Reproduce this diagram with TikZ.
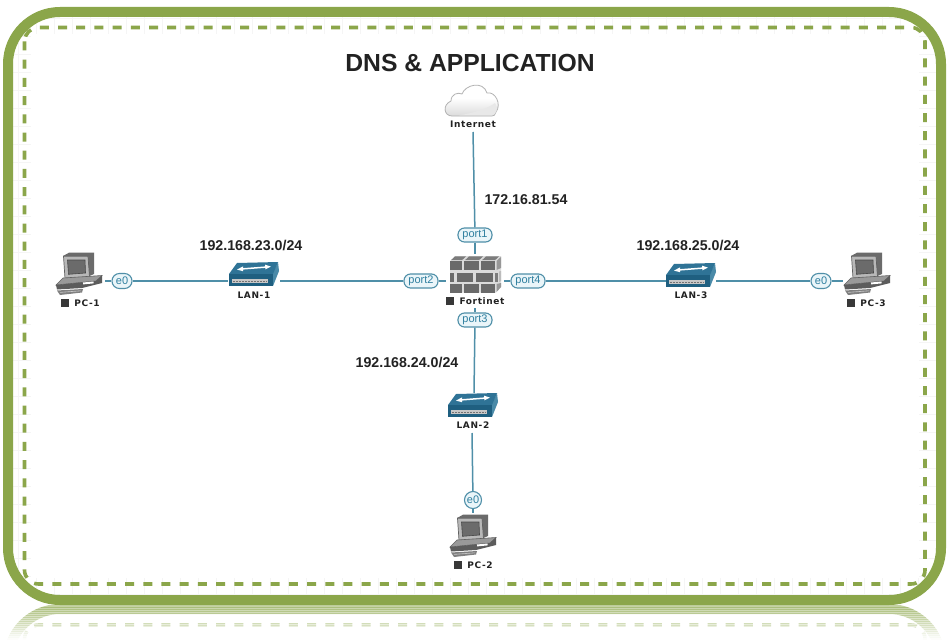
\documentclass[tikz,border=0pt]{standalone}
\usepackage{fontspec}
\setmainfont{Liberation Sans}
\newfontfamily\devfont[LetterSpace=7]{DejaVu Sans}
\usetikzlibrary{backgrounds,calc}
\definecolor{framegreen}{HTML}{8BA64A}
\definecolor{linkteal}{HTML}{4F8FA8}
\definecolor{pilltext}{HTML}{2F7F9F}
\definecolor{pillfill}{HTML}{EAF5F9}
\definecolor{swtop}{HTML}{2F7396}
\definecolor{swfront}{HTML}{1F5F80}
\definecolor{swside}{HTML}{4A8AA8}
\definecolor{brick}{HTML}{6A6A6A}
\definecolor{inklabel}{HTML}{222222}
\tikzset{
  x=1pt,y=-1pt,
  outerframe/.style={draw=framegreen,line width=10pt,rounded corners=52pt},
  dashframe/.style={draw=framegreen,line width=3.6pt,dash pattern=on 9pt off 9.2pt,rounded corners=14pt},
  link/.style={draw=linkteal,line width=1.5pt},
  pill/.style={draw=linkteal,line width=1.1pt,fill=pillfill,rounded corners=6.5pt,text=pilltext,
    font=\fontsize{11}{12}\selectfont,inner sep=0pt,minimum width=34pt,minimum height=14pt},
  pillc/.style={pill,minimum width=20pt,minimum height=15pt,rounded corners=7.4pt},
  anchorbox/.style={inner sep=0pt,minimum width=#1,minimum height=10pt},
  devlabel/.style={font=\devfont\bfseries\fontsize{9}{9}\selectfont,text=inklabel,inner sep=0pt},
  netlabel/.style={font=\bfseries\fontsize{14.2}{15}\selectfont,text=inklabel,inner sep=0pt},
  title/.style={font=\bfseries\fontsize{24.7}{26}\selectfont,text=inklabel,inner sep=0pt},
  statsq/.style={fill=black!78,minimum size=8pt,inner sep=0pt},
  pcicon/.pic={
    % monitor: back and side
    \fill[black!58] (8,4) -- (14,0.7) -- (39,0.7) -- (39,22) -- (32,25) -- cycle;
    % monitor: front, screen
    \filldraw[fill=black!28,draw=black!62,line width=.7pt] (8.5,4.2) -- (33,4.2) -- (34.5,25) -- (10,26.5) -- cycle;
    \filldraw[fill=black!58,draw=black!72,line width=.6pt] (12.5,8) -- (30,8) -- (30.5,21) -- (13.5,22.3) -- cycle;
    % base
    \filldraw[fill=black!40,draw=black!62,line width=.6pt] (1,33) -- (8,26) -- (47,23.5) -- (41,29) -- cycle;
    \fill[black!64] (1,33) -- (41,29) -- (47,23.5) -- (47,31) -- (27,36) -- (2,37.5) -- cycle;
    \fill[white] (28,30.5) -- (38.5,29.5) -- (38.5,31.4) -- (28,32.4) -- cycle;
    % keyboard
    \fill[black!50] (2,38.5) -- (28,37) -- (27,40.5) -- (5,43) -- cycle;
    \draw[black!22,line width=.6pt] (5,40.4) -- (26,38.8);
  },
  switchicon/.pic={
    \fill[swside] (49,0) -- (50,9) -- (44,24) -- (43,12) -- cycle;
    \fill[swtop] (0,12) -- (8,1) -- (49,0) -- (44,12) -- cycle;
    \fill[swfront] (0,12) -- (44,12) -- (44,24) -- (0,24) -- cycle;
    \fill[black!22] (3,17) rectangle (39,21);
    \draw[black!55,line width=1pt,dash pattern=on 1.5pt off 1.5pt] (4,19) -- (38,19);
    \draw[white,line width=1.5pt] (12,7) -- (38,5);
    \fill[white] (8,7.6) -- (14,4.4) -- (14,9.2) -- cycle;
    \fill[white] (42,4.6) -- (36,2.6) -- (36.4,7.4) -- cycle;
  },
  cloudicon/.pic={
    \path[draw=black!30,line width=.8pt,top color=white,bottom color=black!14,middle color=white]
      (7,33) .. controls (-1,33) and (-3,22) .. (6,18)
      .. controls (6,11) and (13,9) .. (17,11)
      .. controls (20,2) and (38,-3) .. (42,10)
      .. controls (50,8) and (57,21) .. (51,29)
      .. controls (50,32) and (49,33) .. (47,33) -- cycle;
    \fill[black!9] (14,32.4) .. controls (28,30) and (42,26) .. (50,20)
      .. controls (54,25) and (51,32) .. (47,32.4) -- cycle;
  },
  wallicon/.pic={
    \fill[black!14] (-1,5) -- (4,0) -- (50,0) -- (50,31) -- (45,36.5) -- (-1,36.5) -- cycle;
    \foreach \xa/\xb in {-1/11,13/28,30/44}{
      \fill[brick] (\xa,5) rectangle (\xb,14);
      \fill[brick] (\xa,28) rectangle (\xb,36.5);
      \fill[brick!88] (\xa+1,4.2) -- (\xa+5,0.4) -- (\xb+4,0.4) -- (\xb,4.2) -- cycle;
    }
    \fill[brick] (-1,16.5) rectangle (3,26);
    \fill[brick] (6,16.5) rectangle (22,26);
    \fill[brick] (25,16.5) rectangle (42,26);
    \fill[brick!88] (44,16.5) rectangle (46.5,26);
    \fill[brick!70] (45.5,5) -- (50,0.8) -- (50,12) -- (45.5,14) -- cycle;
    \fill[brick!45] (48,15.5) -- (50,15) -- (50,25) -- (48,26) -- cycle;
    \fill[brick!70] (45.5,28) -- (50,27) -- (50,31) -- (45.5,36) -- cycle;
  }
}
\begin{document}
\begin{tikzpicture}
\useasboundingbox (0,0) rectangle (949,642);
% --- nodes ---
\node[title] (ttl) at (470,63) {DNS \& APPLICATION};
\node[anchorbox=56pt] (inet) at (473,103) {};
\node[devlabel] (inetl) at (473,124) {Internet};
\node[anchorbox=58pt,minimum height=54pt] (fort) at (475,281) {};
\node[anchorbox=52pt] (lan1) at (254,281) {};
\node[anchorbox=50pt] (lan3) at (691,281) {};
\node[anchorbox=50pt,minimum height=38pt] (lan2) at (472,413) {};
\node[anchorbox=52pt] (pc1) at (79,281) {};
\node[anchorbox=50pt] (pc3) at (868,281) {};
\node[anchorbox=50pt,minimum height=20pt] (pc2) at (473,500) {};
\coordinate (inetbot) at (473,132);
\coordinate (lan2top) at (474,393);
\coordinate (lan2bot) at (472,433);
\coordinate (pc2top) at (473,513);
\node[pill] (p1) at (475,235) {port1};
\node[pill] (p2) at (421,281) {port2};
\node[pill] (p3) at (475,320) {port3};
\node[pill] (p4) at (528,281) {port4};
\node[pillc] (e1) at (122,281) {e0};
\node[pillc] (e3) at (821,281) {e0};
\node[pillc,minimum width=17pt,minimum height=17pt,rounded corners=8.4pt] (e2) at (473,500) {e0};
\node[netlabel] (ip0) at (526,199.5) {172.16.81.54};
\node[netlabel] (ip1) at (251,245) {192.168.23.0/24};
\node[netlabel] (ip3) at (688,245) {192.168.25.0/24};
\node[netlabel] (ip2) at (407,362) {192.168.24.0/24};
\node[devlabel] (lfort) at (482,301) {Fortinet};
\node[statsq] (sfort) at (450,300.5) {};
\node[devlabel] (l1) at (254,295) {LAN-1};
\node[devlabel] (l3) at (691,295) {LAN-3};
\node[devlabel] (l2) at (473,425) {LAN-2};
\node[devlabel] (lp1) at (87,303) {PC-1};
\node[statsq] (sp1) at (65,302.5) {};
\node[devlabel] (lp3) at (873,303) {PC-3};
\node[statsq] (sp3) at (851,302.5) {};
\node[devlabel] (lp2) at (480,565) {PC-2};
\node[statsq] (sp2) at (458,564.5) {};
% --- icons ---
\pic at (445,83) {cloudicon};
\pic at (451,256) {wallicon};
\pic at (229,262) {switchicon};
\pic at (666,263) {switchicon};
\pic at (448,393) {switchicon};
\pic at (55,252) {pcicon};
\pic at (843,252) {pcicon};
\pic at (449,514) {pcicon};
\begin{scope}[on background layer]
  % reflection, fading out below the frame
  \foreach \yy/\op in {605/.50,607/.46,609/.42,611/.38,613/.35,615/.32,617/.29,619/.26,621/.23,623/.20,625/.18,627/.15,629/.12,631/.09,633/.06,635/.04,637/.02}{
    \begin{scope}[opacity=\op]
      \clip (0,\yy) rectangle (949,\yy+2.05);
      \draw[outerframe] (8,1197) rectangle (941,609);
      \draw[dashframe] (24.5,1181.5) rectangle (925,625);
    \end{scope}
  }
  \path[fill=white] (8,12) rectangle (941,600);
  % faint grid showing in the band inside the frame
  \begin{scope}
    \clip[rounded corners=52pt] (8,12) rectangle (941,600);
    \draw[black!4,line width=.5pt] (0,0) grid[step=18pt] (949,642);
  \end{scope}
  \path[fill=white] (31,34) rectangle (919,578);
  \draw[outerframe] (8,12) rectangle (941,600);
  \draw[dashframe] (24.5,27.5) rectangle (925,584);
  % connectors
  \draw[link] (inetbot) -- (p1);
  \draw[link] (p1) -- (fort.north);
  \draw[link] (fort.west) -- (p2);
  \draw[link] (p2) -- (lan1.east);
  \draw[link] (lan1.west) -- (e1);
  \draw[link] (e1) -- (pc1.east);
  \draw[link] (fort.east) -- (p4);
  \draw[link] (p4) -- (lan3.west);
  \draw[link] (lan3.east) -- (e3);
  \draw[link] (e3) -- (pc3.west);
  \draw[link] (fort.south) -- (p3);
  \draw[link] (p3) -- (lan2top);
  \draw[link] (lan2bot) -- (e2);
  \draw[link] (e2) -- (pc2top);
\end{scope}
\end{tikzpicture}
\end{document}
